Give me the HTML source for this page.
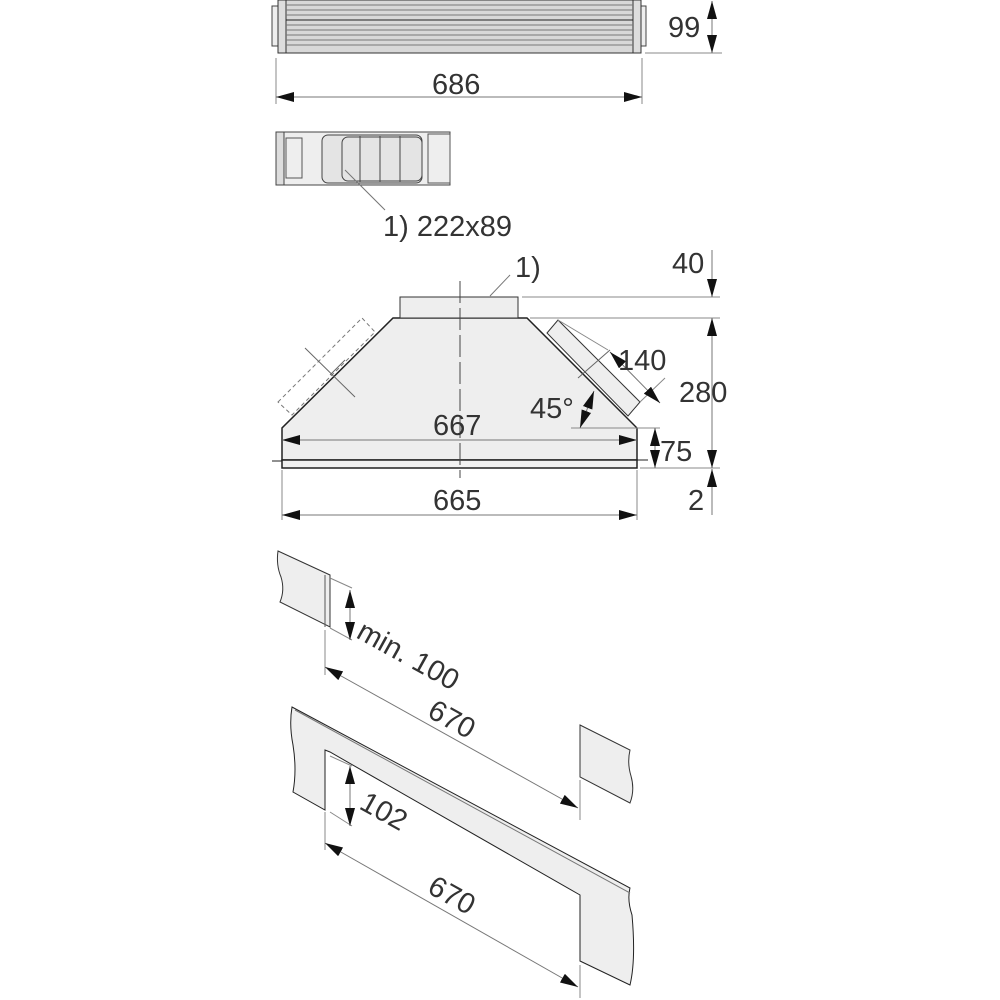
<!DOCTYPE html>
<html><head><style>html,body{margin:0;padding:0;background:#fff}svg{display:block}</style></head><body>
<svg width="1000" height="1000" viewBox="0 0 1000 1000" xmlns="http://www.w3.org/2000/svg" font-family="Liberation Sans, sans-serif" font-size="29" fill="#333">
<defs>
<marker id="a" viewBox="0 0 18 10" refX="18" refY="5" markerWidth="18" markerHeight="10" markerUnits="userSpaceOnUse" orient="auto-start-reverse"><path d="M0,0L18,5L0,10z" fill="#111"/></marker>
</defs>
<!-- top filter body -->
<rect x="272" y="6" width="12" height="40" fill="#eee" stroke="#444"/>
<rect x="634" y="6" width="12" height="40" fill="#eee" stroke="#444"/>
<rect x="278" y="0" width="8" height="53" fill="#ddd" stroke="#333"/>
<rect x="633" y="0" width="8" height="53" fill="#ddd" stroke="#333"/>
<rect x="286" y="0" width="347" height="53" fill="#d8d8d8" stroke="#333"/>
<g stroke="#777" stroke-width="1">
<line x1="286" y1="5" x2="633" y2="5"/><line x1="286" y1="10" x2="633" y2="10"/><line x1="286" y1="15" x2="633" y2="15"/><line x1="286" y1="20" x2="633" y2="20"/><line x1="286" y1="25" x2="633" y2="25"/><line x1="286" y1="30" x2="633" y2="30"/><line x1="286" y1="35" x2="633" y2="35"/><line x1="286" y1="40" x2="633" y2="40"/><line x1="286" y1="45" x2="633" y2="45"/>
</g>
<line x1="286" y1="20" x2="633" y2="20" stroke="#222"/>
<!-- second piece -->
<rect x="276" y="132" width="174" height="53" fill="#eee" stroke="#444"/>
<rect x="276" y="132" width="8" height="53" fill="#ddd" stroke="#444"/>
<rect x="286" y="138" width="16" height="40" fill="none" stroke="#555"/>
<rect x="322" y="135" width="100" height="48" rx="6" fill="#e4e4e4" stroke="#444"/>
<rect x="342" y="137" width="80" height="44" rx="6" fill="none" stroke="#444"/>
<line x1="360" y1="136" x2="360" y2="182" stroke="#444"/><line x1="380" y1="136" x2="380" y2="182" stroke="#444"/><line x1="400" y1="136" x2="400" y2="182" stroke="#444"/>
<rect x="428" y="134" width="22" height="49" fill="#eee" stroke="#555"/>
<line x1="345" y1="170" x2="385" y2="210" stroke="#777"/>
<!-- hood -->
<polygon points="278,402 362,318 375,332 292,415" fill="none" stroke="#777" stroke-dasharray="4,3"/>
<polygon points="558,320 640,402 628,416 547,333" fill="#eee" stroke="#333"/>
<polygon points="393,318 527,318 637,428 637,460 282,460 282,428" fill="#eee" stroke="#222" stroke-width="1.5"/>
<rect x="400" y="297" width="118" height="21" fill="#eee" stroke="#333"/>
<rect x="282" y="460" width="355" height="8" fill="#f2f2f2" stroke="#222" stroke-width="1.5"/>
<line x1="272" y1="461" x2="282" y2="461" stroke="#222"/><line x1="637" y1="460" x2="648" y2="460" stroke="#222"/>
<line x1="305" y1="348" x2="355" y2="397" stroke="#666"/>
<line x1="330" y1="375" x2="345" y2="360" stroke="#666"/>
<line x1="460" y1="281" x2="460" y2="478" stroke="#444" stroke-dasharray="22,5"/>
<line x1="490" y1="296" x2="510" y2="275" stroke="#777"/>
<line x1="578" y1="378" x2="610" y2="350" stroke="#666"/>
<!-- bottom pieces -->
<path d="M278,551 L330,575 L330,627 L280,602 Q285,590 281,577 Q276,565 278,551 Z" fill="#eee" stroke="#333"/>
<line x1="325" y1="575" x2="325" y2="627" stroke="#555"/>
<path d="M580,725 L630,750 Q627,763 631,776 Q635,790 630,803 L580,777 Z" fill="#eee" stroke="#333"/>
<path d="M292,707 L630,888 Q627,900 632,915 Q636,960 630,985 L580,961 L580,895 L330,752 L325,750 L325,810 L293,792 Q297,770 293,745 Q289,725 292,707 Z" fill="#eee" stroke="#222"/>
<line x1="295" y1="710" x2="630" y2="893" stroke="#777"/>
<!-- extension lines -->
<g stroke="#888" stroke-width="1" fill="none">
<line x1="276" y1="58" x2="276" y2="104"/><line x1="642" y1="58" x2="642" y2="104"/>
<line x1="645" y1="53" x2="722" y2="53"/>
<line x1="522" y1="297" x2="720" y2="297"/><line x1="530" y1="318" x2="720" y2="318"/>
<line x1="571" y1="428" x2="660" y2="428"/><line x1="640" y1="468" x2="720" y2="468"/>
<line x1="282" y1="470" x2="282" y2="520"/><line x1="637" y1="470" x2="637" y2="520"/>
<line x1="640" y1="402" x2="665" y2="378"/><line x1="558" y1="320" x2="608" y2="350"/>
<line x1="325" y1="630" x2="325" y2="675"/><line x1="330" y1="578" x2="352" y2="588"/><line x1="330" y1="628" x2="352" y2="640"/>
<line x1="580" y1="780" x2="580" y2="820"/>
<line x1="325" y1="812" x2="325" y2="850"/><line x1="330" y1="756" x2="352" y2="766"/><line x1="330" y1="812" x2="352" y2="826"/>
<line x1="580" y1="965" x2="580" y2="998"/>
</g>
<!-- dimension lines -->
<g stroke="#777" stroke-width="1" fill="none" marker-start="url(#a)" marker-end="url(#a)">
<line x1="276" y1="97" x2="642" y2="97"/>
<line x1="712" y1="1" x2="712" y2="53"/>
<line x1="282" y1="440" x2="637" y2="440"/>
<line x1="282" y1="515" x2="637" y2="515"/>
<line x1="712" y1="318" x2="712" y2="468"/>
<line x1="655" y1="428" x2="655" y2="468"/>
<line x1="610" y1="352" x2="660" y2="403"/>
<line x1="594" y1="391" x2="580" y2="428"/>
<line x1="350" y1="590" x2="350" y2="640"/>
<line x1="325" y1="667" x2="578" y2="808"/>
<line x1="350" y1="766" x2="350" y2="826"/>
<line x1="325" y1="843" x2="578" y2="987"/>
</g>
<g stroke="#777" stroke-width="1" fill="none">
<line x1="712" y1="250" x2="712" y2="297" marker-end="url(#a)"/>
<line x1="712" y1="515" x2="712" y2="469" marker-end="url(#a)"/>
</g>
<!-- text -->
<text x="383" y="236">1) 222x89</text>
<text x="515" y="277">1)</text>
<text x="672" y="273">40</text>
<text x="679" y="402">280</text>
<text x="660" y="461">75</text>
<text x="688" y="510">2</text>
<text x="618" y="370">140</text>
<text x="530" y="418">45°</text>
<text x="433" y="435">667</text>
<text x="433" y="510">665</text>
<text x="432" y="94">686</text>
<text x="668" y="37">99</text>
<text transform="translate(355,637) rotate(29)">min. 100</text>
<text transform="translate(426,716) rotate(29)">670</text>
<text transform="translate(358,808) rotate(29)">102</text>
<text transform="translate(426,892) rotate(29)">670</text>
</svg>
</body></html>
